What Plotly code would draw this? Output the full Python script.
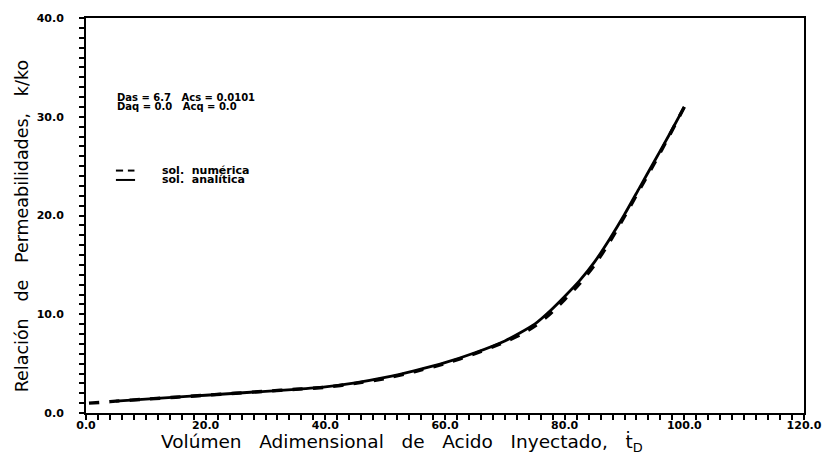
import plotly.graph_objects as go

# Dimensionless injected acid volume (t*_D) and permeability ratio k/ko
x_numerica = [0.5, 3.0, 5.0, 10.0, 15.0, 20.0, 25.0, 30.0, 35.0, 40.0, 45.0, 50.0,
              55.0, 60.0, 65.0, 70.0, 72.5, 75.0, 77.5, 80.0, 82.5, 85.0, 87.5,
              90.0, 92.5, 95.0, 97.5, 100.0]
k_numerica = [1.0, 1.1, 1.2, 1.4, 1.6, 1.8, 2.0, 2.2, 2.4, 2.6, 3.0, 3.5,
              4.2, 5.0, 6.0, 7.2, 7.9, 8.8, 10.0, 11.5, 13.1, 15.0, 17.3,
              19.9, 22.6, 25.3, 28.1, 31.0]

x_analitica = [5.0, 10.0, 15.0, 20.0, 25.0, 30.0, 35.0, 40.0, 45.0, 50.0,
               55.0, 60.0, 65.0, 70.0, 72.5, 75.0, 77.5, 80.0, 82.5, 85.0, 87.5,
               90.0, 92.5, 95.0, 97.5, 100.0]
k_analitica = [1.2, 1.4, 1.6, 1.8, 2.0, 2.2, 2.4, 2.65, 3.05, 3.6,
               4.3, 5.1, 6.1, 7.3, 8.1, 9.0, 10.3, 11.8, 13.4, 15.3, 17.6,
               20.1, 22.8, 25.5, 28.2, 31.0]

FONT = "DejaVu Sans"
NB = "\u00a0"

fig = go.Figure()
fig.add_trace(go.Scatter(x=x_numerica, y=k_numerica, mode="lines", name="sol. numérica",
                         line=dict(color="black", width=3.4, dash="dash",
                                   shape="spline", smoothing=0.6)))
fig.add_trace(go.Scatter(x=x_analitica, y=k_analitica, mode="lines", name="sol. analítica",
                         line=dict(color="black", width=2.8, shape="spline", smoothing=0.6)))

axis_common = dict(
    showgrid=False, zeroline=False, showline=True, linecolor="black", linewidth=2,
    mirror=True, ticks="outside", ticklen=5, tickwidth=1.6, tickcolor="black",
    tickformat=".1f", tick0=0,
    tickfont=dict(family=FONT, size=11, color="black", weight="bold"),
)

fig.update_xaxes(range=[0, 120], dtick=20, ticklabelstandoff=-4,
                 minor=dict(dtick=2, ticks="outside", ticklen=5, tickwidth=1.6, tickcolor="black"),
                 **axis_common)
fig.update_yaxes(range=[0, 40], dtick=10, ticklabelstandoff=13,
                 minor=dict(dtick=1, ticks="outside", ticklen=5, tickwidth=1.6, tickcolor="black"),
                 **axis_common)

annotations = [
    dict(text=f"Das = 6.7{NB*3}Acs = 0.0101", x=4.8, y=31.9),
    dict(text=f"Daq = 0.0{NB*3}Acq = 0.0", x=4.8, y=31.0),
]
for a in annotations:
    a.update(xref="x", yref="y", xanchor="left", yanchor="middle", showarrow=False,
             font=dict(family=FONT, size=10, color="black", weight="bold"))

# legend rows drawn inside the plot area
legend_rows = [("sol. numérica", 24.55, "dash"), ("sol. analítica", 23.6, "solid")]
for label, yy, style in legend_rows:
    annotations.append(dict(text=label.replace(" ", NB * 2), x=12.4, y=yy, xref="x", yref="y",
                            xanchor="left", yanchor="middle", showarrow=False,
                            font=dict(family=FONT, size=11, color="black", weight="bold")))
    if style == "dash":
        for x0, x1 in [(5.0, 6.2), (7.0, 8.1)]:
            fig.add_shape(type="line", x0=x0, x1=x1, y0=yy, y1=yy, xref="x", yref="y",
                          line=dict(color="black", width=2))
    else:
        fig.add_shape(type="line", x0=5.0, x1=8.2, y0=yy, y1=yy, xref="x", yref="y",
                      line=dict(color="black", width=2))

# axis titles
annotations.append(dict(
    text=f"Relación{NB*3}de{NB*3}Permeabilidades,{NB*3}k/ko",
    x=-0.0895, y=0.472, xref="paper", yref="paper", textangle=-90,
    xanchor="center", yanchor="middle", showarrow=False,
    font=dict(family=FONT, size=17.5, color="black")))
annotations.append(dict(
    text=f"Volúmen{NB*3}Adimensional{NB*3}de{NB*3}Acido{NB*3}Inyectado,{NB*3}ṫ<sub>D</sub>",
    x=0.44, y=-0.04, xref="paper", yref="paper",
    xanchor="center", yanchor="top", showarrow=False,
    font=dict(family=FONT, size=18.5, color="black")))

fig.update_layout(
    width=834, height=459,
    margin=dict(l=86, r=22, t=15, b=46),
    paper_bgcolor="white", plot_bgcolor="white",
    showlegend=False,
    annotations=annotations,
)

fig.write_html("out.html")
